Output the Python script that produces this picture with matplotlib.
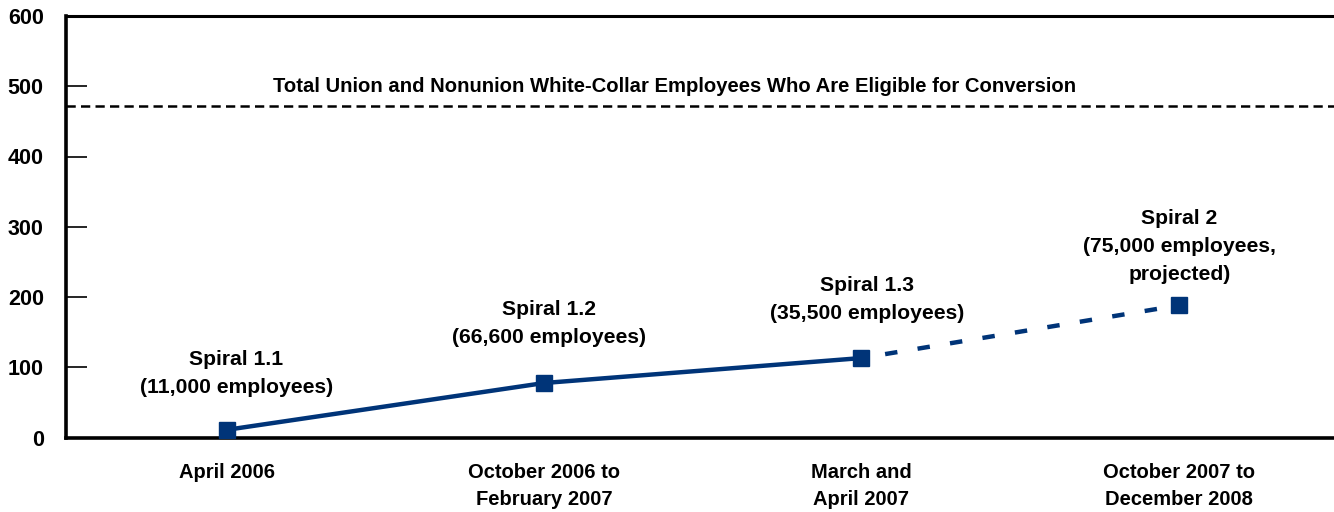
import matplotlib
matplotlib.use("Agg")
import matplotlib.pyplot as plt

plt.rcParams['font.family'] = ['Liberation Sans', 'DejaVu Sans']

periods = ["April 2006", "October 2006 to\nFebruary 2007", "March and\nApril 2007", "October 2007 to\nDecember 2008"]
spiral_labels = ["Spiral 1.1\n(11,000 employees)", "Spiral 1.2\n(66,600 employees)",
                 "Spiral 1.3\n(35,500 employees)", "Spiral 2\n(75,000 employees,\nprojected)"]
cumulative_thousands = [11.0, 77.6, 113.1, 188.1]
eligible_total = 472
eligible_label = "Total Union and Nonunion White-Collar Employees Who Are Eligible for Conversion"
yticks = [0, 100, 200, 300, 400, 500, 600]

navy = "#003478"
W, H = 1334, 512
fig = plt.figure(figsize=(W/100, H/100), dpi=100)
ax = fig.add_axes([66/W, 1-437.5/H, 1-66/W, (437.5-16)/H])

x = list(range(len(periods)))
ax.plot(x[:3], cumulative_thousands[:3], color=navy, lw=3.2, marker='s', ms=12, solid_capstyle='butt', zorder=3)
ax.plot(x[2:], cumulative_thousands[2:], color=navy, lw=3.2, ls=(2, (2.8, 4.6)), zorder=2)
ax.plot(x[3:], cumulative_thousands[3:], color=navy, lw=0, marker='s', ms=12, zorder=3)

ax.axhline(eligible_total, color='black', lw=1.8, ls=(0, (3.7, 2.1)))
ax.text(1.41, eligible_total + 14, eligible_label, ha='center', va='bottom',
        fontsize=14.6, fontweight='bold')

offsets = [(9, 33), (5, 36), (6, 35), (1, 21)]
for xi, yi, lab, off in zip(x, cumulative_thousands, spiral_labels, offsets):
    ax.annotate(lab, (xi, yi), xytext=off, textcoords='offset pixels',
                ha='center', va='bottom', fontsize=15.2, fontweight='bold',
                linespacing=1.6)

ax.set_xlim(-0.508, 3.49)
ax.set_ylim(0, 600)
ax.set_yticks(yticks)
ax.set_yticklabels([str(v) for v in yticks], fontsize=15.5, fontweight='bold')
ax.set_xticks(x)
ax.set_xticklabels(periods, fontsize=14.5, fontweight='bold', linespacing=1.58)
ax.tick_params(axis='y', direction='in', length=15, width=1.2, color='black', pad=16)
ax.tick_params(axis='x', length=0, pad=18)
ax.spines['right'].set_visible(False)
ax.spines['left'].set_linewidth(2.6)
ax.spines['bottom'].set_linewidth(2.6)
ax.spines['top'].set_linewidth(2.2)

fig.savefig("out.png", dpi=100)
